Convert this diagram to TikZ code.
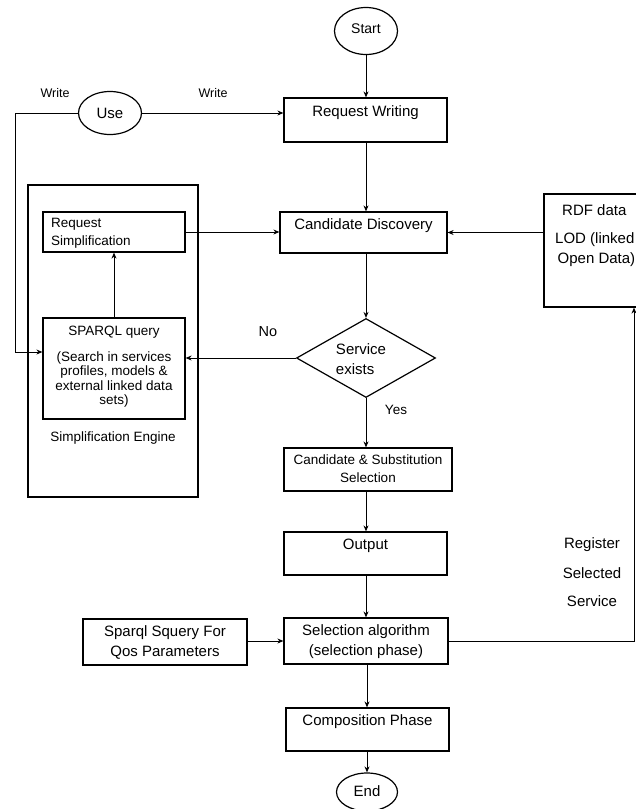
\documentclass[tikz,border=0pt]{standalone}
\usepackage{fontspec}
\setmainfont{Liberation Sans}
\usetikzlibrary{arrows.meta,shapes.geometric}
\tikzset{
  box/.style={draw, line width=1.2pt, inner sep=0pt},
  oval/.style={draw, ellipse, line width=1.2pt, inner sep=0pt},
  txt/.style={inner sep=0pt, align=center, font=\fontsize{15}{20}\selectfont},
  stxt/.style={inner sep=0pt, align=center, font=\fontsize{13.5}{14.5}\selectfont},
  arr/.style={line width=1pt, -{Stealth[length=6pt,width=5pt]}},
  ln/.style={line width=1pt}
}
\begin{document}
\begin{tikzpicture}[x=1pt,y=-1pt]
\useasboundingbox (0,0) rectangle (636,809);
\clip (0,0) rectangle (636,809);
% ellipses
\node[oval, minimum width=63pt, minimum height=47pt] (start) at (366,31) {};
\node[txt, font=\fontsize{14}{16}\selectfont] (starttxt) at (366,29) {Start};
\node[oval, minimum width=63pt, minimum height=43pt] (use) at (110,113) {};
\node[txt] (usetxt) at (110,113) {Use};
\node[oval, minimum width=61pt, minimum height=38pt] (end) at (367,792) {};
\node[txt] (endtxt) at (367,791) {End};
% boxes
\node[box, minimum width=163pt, minimum height=44pt] (rw) at (365.5,120) {};
\node[txt] (rwtxt) at (365.5,113) {Request Writing};
\node[box, minimum width=170pt, minimum height=312pt] (se) at (113,341) {};
\node[stxt] (setxt) at (113,438) {Simplification Engine};
\node[box, minimum width=142pt, minimum height=40pt] (rs) at (114,232) {};
\node[stxt, anchor=west, align=left, font=\fontsize{13.5}{18}\selectfont] (rstxt) at (51,233) {Request\\Simplification};
\node[box, minimum width=142pt, minimum height=101pt] (sq) at (114,368.5) {};
\node[stxt] (sqtxt) at (114,367) {SPARQL query\\[11pt](Search in services\\profiles, models \&\\external linked data\\sets)};
\node[box, minimum width=167pt, minimum height=41pt] (cd) at (363.5,232.5) {};
\node[txt] (cdtxt) at (363.5,226) {Candidate Discovery};
\node[box, minimum width=130pt, minimum height=113pt] (rdf) at (609,250.5) {};
\node[txt, anchor=west] (rdftxt) at (562,210) {RDF data};
\node[txt, anchor=west, align=left] (lodtxt) at (555,250) {LOD (linked\\\,Open Data)};
\node[diamond, draw, line width=1.2pt, inner sep=0pt, minimum width=139pt, minimum height=79pt] (dia) at (366,358) {};
\node[txt, align=left] (diatxt) at (361,359) {Service\\exists};
\node[box, minimum width=168pt, minimum height=43pt] (css) at (368,469.5) {};
\node[stxt, font=\fontsize{13.5}{18}\selectfont] (csstxt) at (368,469) {Candidate \& Substitution\\Selection};
\node[box, minimum width=163pt, minimum height=43pt] (out) at (365.5,553.5) {};
\node[txt] (outtxt) at (365.5,546) {Output};
\node[box, minimum width=164pt, minimum height=46pt] (sel) at (366,641) {};
\node[txt] (seltxt) at (366,642) {Selection algorithm\\(selection phase)};
\node[box, minimum width=164pt, minimum height=46pt] (sq2) at (165,642) {};
\node[txt] (sq2txt) at (165,642) {Sparql Squery For\\Qos Parameters};
\node[box, minimum width=163pt, minimum height=43pt] (comp) at (367.5,729.5) {};
\node[txt] (comptxt) at (367.5,722) {Composition Phase};
% labels
\node[stxt, font=\fontsize{12.5}{14}\selectfont] (w1) at (55,93) {Write};
\node[stxt, font=\fontsize{12.5}{14}\selectfont] (w2) at (213,93) {Write};
\node[txt, font=\fontsize{14.5}{16}\selectfont] (no) at (268,332) {No};
\node[stxt] (yes) at (396,410) {Yes};
\node[txt] (reg) at (592,545) {Register};
\node[txt] (selc) at (592,573) {Selected};
\node[txt] (serv) at (592,601) {Service};
% connectors
\coordinate (c1) at (15,113);
\coordinate (c2) at (15,352);
\coordinate (c3) at (634,641);
\draw[arr] (start) -- (start |- rw.north);
\draw[arr] (use) -- (rw.west |- use);
\draw[arr] (use.west) -- (c1) -- (c2) -- (sq.west |- c2);
\draw[arr] (rw.south -| dia) -- (dia |- cd.north);
\draw[arr] (rs.east) -- (cd.west |- rs.east);
\draw[arr] (rdf.west |- cd.east) -- (cd.east);
\draw[arr] (sq) -- (rs);
\draw[arr] (cd.south -| dia) -- (dia.north);
\draw[arr] (dia.west) -- (sq.east |- dia.west);
\draw[arr] (dia.south) -- (dia |- css.north);
\draw[arr] (css.south -| dia) -- (dia |- out.north);
\draw[arr] (out.south -| dia) -- (dia |- sel.north);
\draw[arr] (sq2.east |- sel.east) -- (sel.west);
\draw[arr] (sel.south -| end) -- (end |- comp.north);
\draw[arr] (comp.south -| end) -- (end.north);
\draw[arr] (sel.east) -- (c3) -- (c3 |- rdf.south);
\end{tikzpicture}
\end{document}
